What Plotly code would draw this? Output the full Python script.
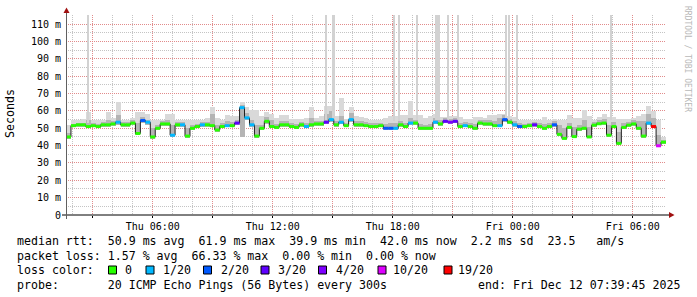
import plotly.graph_objects as go
import pandas as pd

# ---------------- data ----------------
start_time = "2025-12-11 01:39:45"
end_time = "2025-12-12 07:39:45"

median_ms = [
    45.0, 51.5, 52.0, 52.0, 51.0, 51.5, 51.0, 52.0, 52.0, 52.5,
    53.5, 52.0, 52.0, 53.0, 47.0, 54.5, 53.5, 45.0, 50.0, 52.5,
    52.5, 46.0, 52.0, 52.0, 45.5, 50.0, 51.0, 52.0, 52.0, 51.5,
    49.0, 51.0, 51.5, 51.5, 53.0, 61.9, 56.0, 52.0, 45.5, 50.0,
    54.0, 51.0, 50.5, 52.0, 52.0, 51.0, 50.5, 52.0, 51.0, 52.0,
    52.5, 52.5, 53.5, 55.0, 52.0, 53.5, 51.5, 55.0, 52.0, 52.0,
    51.5, 51.0, 51.0, 51.5, 50.0, 50.0, 50.0, 52.0, 51.0, 53.0,
    53.0, 50.0, 50.0, 50.0, 53.5, 52.5, 54.0, 53.5, 54.0, 51.0,
    51.5, 51.0, 50.0, 53.0, 52.5, 52.5, 51.5, 51.5, 55.0, 53.5,
    52.0, 51.0, 51.0, 51.5, 52.0, 51.0, 50.0, 51.0, 52.0, 46.5,
    44.2, 50.5, 45.2, 49.5, 50.0, 45.0, 51.8, 52.6, 53.0, 46.0,
    51.0, 41.3, 50.5, 51.8, 52.5, 50.0, 45.5, 53.0, 51.0, 39.9,
    42.0,
]

loss_level = [
    0, 0, 0, 0, 0, 0, 0, 0, 0, 0,
    1, 0, 0, 0, 0, 2, 1, 0, 0, 0,
    0, 1, 0, 1, 0, 0, 0, 1, 0, 0,
    0, 0, 1, 0, 3, 1, 1, 1, 0, 0,
    0, 0, 0, 0, 0, 0, 0, 0, 1, 0,
    0, 0, 3, 1, 0, 1, 0, 1, 0, 0,
    0, 0, 0, 0, 2, 2, 1, 0, 0, 1,
    0, 0, 0, 0, 1, 0, 3, 4, 3, 0,
    1, 0, 0, 0, 0, 0, 0, 1, 2, 0,
    1, 2, 0, 0, 3, 0, 0, 0, 2, 0,
    0, 0, 0, 0, 0, 0, 0, 0, 0, 0,
    0, 0, 0, 0, 0, 0, 0, 1, 6, 5,
    0,
]

smoke_lo = [
    44, 50.5, 51, 51, 50, 50.5, 50, 51, 51, 51.5,
    52, 51, 51, 52, 46, 53, 52, 44, 49, 51.5,
    51.5, 45, 51, 51, 44.5, 49, 50, 51, 51, 50.5,
    48, 50, 50.5, 50.5, 52, 45, 55, 51, 44.5, 49,
    52.5, 50, 49.5, 51, 51, 50, 49.5, 51, 50, 51,
    51.5, 51.5, 52.5, 53.5, 51, 52.5, 50.5, 53.5, 51, 51,
    50.5, 50, 50, 50.5, 49, 49, 49, 51, 50, 52,
    52, 49, 49, 49, 52.5, 51.5, 53, 52.5, 53, 50,
    50.5, 50, 49, 52, 51.5, 51.5, 50.5, 50.5, 53.5, 52.5,
    51, 50, 50, 50.5, 51, 50, 49, 50, 51, 45.5,
    43.5, 49.5, 44.5, 48.5, 49, 44.5, 50.8, 51.6, 52, 45,
    50, 40.5, 49.5, 50.8, 51.5, 49, 44.5, 52, 50, 39,
    41,
]

smoke_dark = [
    47, 52.5, 53, 53, 55, 53, 52.5, 53.5, 55, 54,
    57.5, 53.5, 53.5, 54.5, 53, 56.5, 55, 50, 52, 54,
    55, 52, 53.5, 53.5, 50, 52, 52.5, 53.5, 53.5, 58,
    52, 53, 54, 53.5, 55, 63.5, 59, 55, 52, 52,
    56.5, 55, 52.5, 54, 54, 53, 52.5, 53.5, 53, 56,
    54, 54, 58, 60, 54, 57, 53, 59, 54, 54,
    53.5, 53, 53, 53, 52.5, 53, 53, 54, 53, 56,
    55, 52.5, 52, 52.5, 56, 54.5, 56, 55.5, 56, 53,
    53.5, 53, 52.5, 55, 54.5, 54.5, 54, 56, 57.5, 55.5,
    54, 53, 52.5, 53, 53.5, 53, 52.5, 53, 54, 52,
    50, 53, 51, 52, 55, 51, 53.5, 54.5, 55.5, 52,
    53.5, 48, 53, 53.5, 54.5, 54, 54, 58, 56, 46,
    43.5,
]

smoke_hi = [
    52, 54.6, 54.6, 55.6, 59.4, 54.6, 54.6, 54.6, 59.4, 56,
    65, 55, 55, 56, 59.4, 59.4, 58, 55, 55, 55,
    58, 58, 55, 54.6, 54.6, 54.6, 54.6, 55, 56, 62.3,
    56, 55, 57.5, 57, 57, 65, 62, 60.4, 60.4, 57,
    59.4, 58, 56, 57.5, 57.5, 55.6, 55.6, 55.6, 56, 62,
    56, 57, 63, 63, 57, 67.4, 55.6, 62.3, 57, 56.5,
    56, 54.6, 54.6, 54.6, 56, 57, 57, 57.5, 57.5, 66,
    57.5, 57.5, 56, 57, 58, 56.5, 56.5, 57, 57, 56.5,
    55.6, 55.6, 56.5, 56.5, 56, 57.5, 57.5, 58.5, 58.5, 57,
    56.5, 55, 54.6, 54.6, 54.6, 54.6, 56.5, 54.6, 55.6, 55,
    54.6, 57.5, 56, 56, 60.4, 57, 55, 56.5, 58, 56.5,
    56.5, 55.5, 55.6, 55.6, 56, 57, 58.5, 63, 60, 54.6,
    45,
]

spike_times = [
    "2025-12-11 02:45", "2025-12-11 14:40", "2025-12-11 15:02",
    "2025-12-11 18:04", "2025-12-11 18:19", "2025-12-11 19:13",
    "2025-12-11 20:10", "2025-12-11 20:17", "2025-12-11 20:46",
    "2025-12-11 21:16", "2025-12-11 23:40", "2025-12-11 23:49",
    "2025-12-12 00:13", "2025-12-12 04:55",
]
spike_top = [115.3] * 14
spike_base = [53, 55, 55, 54, 54, 55, 55, 55, 55, 55, 55, 55, 55, 55]

loss_labels = ["0", "1/20", "2/20", "3/20", "4/20", "10/20", "19/20"]
loss_colors = ["#26ff00", "#00b8ff", "#0059ff", "#5e00ff", "#7e00ff", "#dd00ff", "#ff0000"]

y_tick_vals = [0, 10, 20, 30, 40, 50, 60, 70, 80, 90, 100, 110]
y_tick_text = ["0", "10 m", "20 m", "30 m", "40 m", "50 m", "60 m",
               "70 m", "80 m", "90 m", "100 m", "110 m"]
x_tick_times = ["2025-12-11 03:00", "2025-12-11 06:00", "2025-12-11 09:00",
                "2025-12-11 12:00", "2025-12-11 15:00", "2025-12-11 18:00",
                "2025-12-11 21:00", "2025-12-12 00:00", "2025-12-12 03:00",
                "2025-12-12 06:00"]
x_tick_text = ["", "Thu 06:00", "", "Thu 12:00", "", "Thu 18:00", "",
               "Fri 00:00", "", "Fri 06:00"]

stats_line1 = "median rtt:  50.9 ms avg  61.9 ms max  39.9 ms min  42.0 ms now  2.2 ms sd  23.5   am/s"
stats_line2 = "packet loss: 1.57 % avg  66.33 % max  0.00 % min  0.00 % now"
stats_line3 = "loss color:"
stats_line4 = "probe:       20 ICMP Echo Pings (56 Bytes) every 300s"
end_text = "end: Fri Dec 12 07:39:45 2025"

# ---------------- geometry helpers (pixel -> paper) ----------------
W, H = 697, 297
L, R, T, B = 66, 31, 15, 82
PW, PH = W - L - R, H - T - B


def px(x):
    return (x - L) / PW


def py(y):
    return (T + PH - y) / PH


def nb(s):
    return s.replace(" ", "\u00a0")


MONO = "DejaVu Sans Mono"

n = len(median_ms)
edges = pd.date_range(start_time, end_time, periods=n + 1)
step_ms = (edges[1] - edges[0]).total_seconds() * 1000
t_left = edges[:-1]

fig = go.Figure()

# light smoke
fig.add_trace(go.Bar(
    x=t_left, base=smoke_lo, y=[h - l for h, l in zip(smoke_hi, smoke_lo)],
    width=[step_ms] * n, offset=0, marker=dict(color="#d9d9d9", line=dict(width=0)),
    hoverinfo="skip", showlegend=False))
# dark smoke
fig.add_trace(go.Bar(
    x=t_left, base=smoke_lo, y=[d - l for d, l in zip(smoke_dark, smoke_lo)],
    width=[step_ms] * n, offset=0, marker=dict(color="#b4b4b4", line=dict(width=0)),
    hoverinfo="skip", showlegend=False))
# tall outlier spikes
spike_w = 7 * 60 * 1000
fig.add_trace(go.Bar(
    x=pd.to_datetime(spike_times), base=spike_base,
    y=[t - b for t, b in zip(spike_top, spike_base)],
    width=[spike_w] * len(spike_times), offset=-spike_w / 2,
    marker=dict(color="#d2d2d2", line=dict(width=0)),
    hoverinfo="skip", showlegend=False))

# median black step line
fig.add_trace(go.Scatter(
    x=list(edges), y=median_ms + [median_ms[-1]], mode="lines",
    line=dict(color="#202020", width=1, shape="hv"),
    hoverinfo="skip", showlegend=False))

# coloured loss segments
for k, col in enumerate(loss_colors):
    xs, ys = [], []
    for i in range(n):
        if loss_level[i] == k:
            xs += [edges[i], edges[i + 1], None]
            ys += [median_ms[i], median_ms[i], None]
    if xs:
        fig.add_trace(go.Scatter(
            x=xs, y=ys, mode="lines", line=dict(color=col, width=3),
            hoverinfo="skip", showlegend=False))

major_grid = "rgba(235,120,120,0.75)"
minor_grid = "#c4c4c4"

fig.update_layout(
    width=W, height=H,
    margin=dict(l=L, r=R, t=T, b=B, pad=0),
    paper_bgcolor="white", plot_bgcolor="white",
    barmode="overlay", bargap=0,
    font=dict(family=MONO, size=10, color="#000"),
    xaxis=dict(
        type="date", range=[start_time, end_time],
        tickvals=x_tick_times, ticktext=x_tick_text,
        tickfont=dict(family=MONO, size=10, color="#000"),
        showgrid=True, gridcolor=major_grid, griddash="1px,1px", gridwidth=1,
        minor=dict(dtick=3600000, showgrid=True, gridcolor=minor_grid,
                   griddash="1px,1px", gridwidth=1),
        ticks="outside", ticklen=2, tickcolor="#000",
        showline=False, zeroline=False, fixedrange=True,
    ),
    yaxis=dict(
        range=[0, 115.3],
        tickvals=y_tick_vals, ticktext=y_tick_text,
        tickfont=dict(family=MONO, size=10, color="#000"),
        showgrid=True, gridcolor=major_grid, griddash="1px,1px", gridwidth=1,
        minor=dict(dtick=5, showgrid=True, gridcolor=minor_grid,
                   griddash="1px,1px", gridwidth=1),
        ticks="", ticklabelstandoff=4,
        showline=False, zeroline=False, fixedrange=True,
    ),
)

shapes = []
# axis lines
shapes.append(dict(type="line", xref="paper", yref="paper",
                   x0=px(62), x1=px(670), y0=0, y1=0,
                   line=dict(color="#000", width=1)))
shapes.append(dict(type="line", xref="paper", yref="paper",
                   x0=px(66.5), x1=px(66.5), y0=py(219), y1=py(12),
                   line=dict(color="#606060", width=1)))
# arrows
arrow_col = "#a01010"
shapes.append(dict(type="path", xref="paper", yref="paper",
                   path=f"M {px(63.5)} {py(13)} L {px(69.5)} {py(13)} L {px(66.5)} {py(7.5)} Z",
                   fillcolor=arrow_col, line=dict(color=arrow_col, width=0)))
shapes.append(dict(type="path", xref="paper", yref="paper",
                   path=f"M {px(669)} {py(212)} L {px(669)} {py(218)} L {px(674.5)} {py(215)} Z",
                   fillcolor=arrow_col, line=dict(color=arrow_col, width=0)))

# legend squares
square_x = [108.5, 146, 203.5, 261, 318.5, 378, 444]
label_x = [124, 162, 219.5, 277, 334.5, 391.5, 456.5]
for sx, col in zip(square_x, loss_colors):
    shapes.append(dict(type="rect", xref="paper", yref="paper",
                       x0=px(sx), x1=px(sx + 8), y0=py(274), y1=py(266),
                       fillcolor=col, line=dict(color="#000", width=1)))
fig.update_layout(shapes=shapes)

ann = []
legend_font = dict(family=MONO, size=11.6, color="#000")
for text, yy in [(stats_line1, 241), (stats_line2, 255.5), (stats_line3, 270), (stats_line4, 284.5)]:
    ann.append(dict(text=nb(text), xref="paper", yref="paper", x=px(16), y=py(yy),
                    xanchor="left", yanchor="middle", showarrow=False,
                    font=legend_font, borderpad=0))
for lx, lab in zip(label_x, loss_labels):
    ann.append(dict(text=nb(lab), xref="paper", yref="paper", x=px(lx), y=py(270),
                    xanchor="left", yanchor="middle", showarrow=False,
                    font=legend_font, borderpad=0))
ann.append(dict(text=nb(end_text), xref="paper", yref="paper", x=px(681), y=py(284.5),
                xanchor="right", yanchor="middle", showarrow=False,
                font=legend_font, borderpad=0))
ann.append(dict(text="Seconds", xref="paper", yref="paper", x=px(10), y=py(114),
                xanchor="center", yanchor="middle", textangle=-90, showarrow=False,
                font=dict(family=MONO, size=11.6, color="#000"), borderpad=0))
ann.append(dict(text=nb("RRDTOOL / TOBI OETIKER"), xref="paper", yref="paper",
                x=px(687), y=py(59), xanchor="center", yanchor="middle",
                textangle=90, showarrow=False,
                font=dict(family=MONO, size=8, color="#b8b8b8"), borderpad=0))
fig.update_layout(annotations=ann)

fig.write_html("out.html")
